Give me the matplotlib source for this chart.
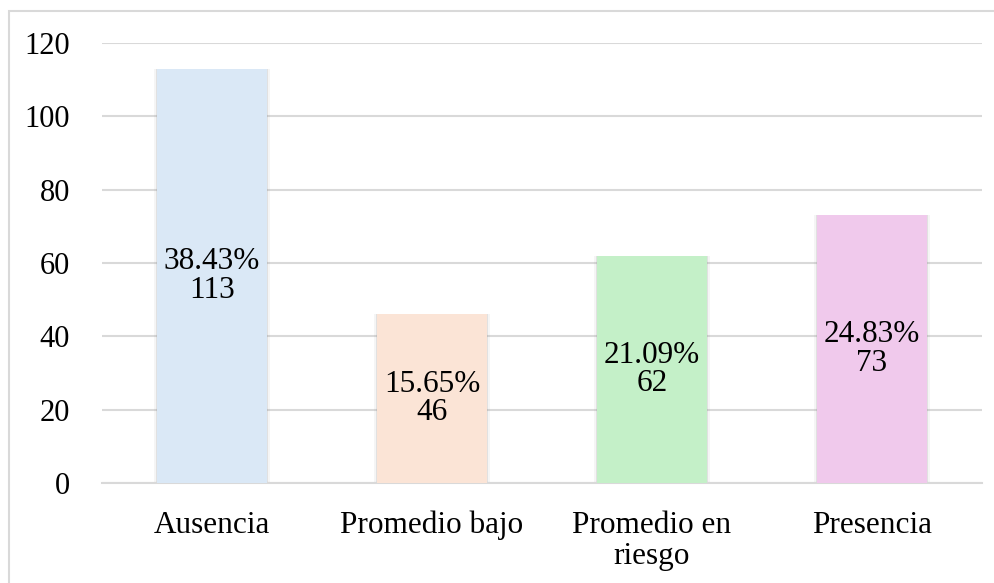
import matplotlib.pyplot as plt
import matplotlib.patches as mpatches
import numpy as np

categorias = ['Ausencia', 'Promedio bajo', 'Promedio en\nriesgo', 'Presencia']
valores = [113, 46, 62, 73]
porcentajes = ['38.43%', '15.65%', '21.09%', '24.83%']
colores = ['#DAE8F6', '#FBE4D6', '#C4F0C8', '#F0C9EC']

plt.rcParams['font.family'] = ['Liberation Serif', 'DejaVu Serif']

fig = plt.figure(figsize=(9.94, 5.83), dpi=100)
ax = fig.add_axes([102 / 994, 1 - 483 / 583, 880 / 994, 440 / 583])

x = np.arange(len(categorias))
# sombra suave detras de las barras
for dx, a in [(0.006, 0.16), (0.014, 0.08)]:
    ax.bar(x, valores, width=0.5 + 2 * dx, color='#808080', alpha=a, zorder=2)
ax.bar(x, valores, width=0.5, color=colores, zorder=3)

for i, v in enumerate(valores):
    ax.text(x[i], v / 2, porcentajes[i] + '\n' + str(v), ha='center', va='center',
            fontsize=22.5, color='black', zorder=4, linespacing=0.98)

ax.set_xlim(-0.5, 3.5)
ax.set_ylim(0, 120)
ax.set_yticks(range(0, 121, 20))
ax.yaxis.grid(True, color='#D9D9D9', linewidth=1.5, zorder=0)
ax.set_axisbelow(True)
for s in ['top', 'right', 'left']:
    ax.spines[s].set_visible(False)
ax.spines['bottom'].set_color('#D9D9D9')
ax.spines['bottom'].set_linewidth(1.5)
ax.set_xticks(x)
ax.set_xticklabels(categorias, fontsize=22.5, linespacing=1.08)
ax.tick_params(axis='y', labelsize=22, length=0, pad=23)
ax.tick_params(axis='x', length=0, pad=20)

# borde del area del grafico
fig.patches.append(mpatches.Rectangle((9 / 994, -0.1), 1.1, 1 - 11 / 583 + 0.1,
                                      transform=fig.transFigure, fill=False,
                                      edgecolor='#D9D9D9', linewidth=1.5))

fig.savefig('out.png', dpi=100)
